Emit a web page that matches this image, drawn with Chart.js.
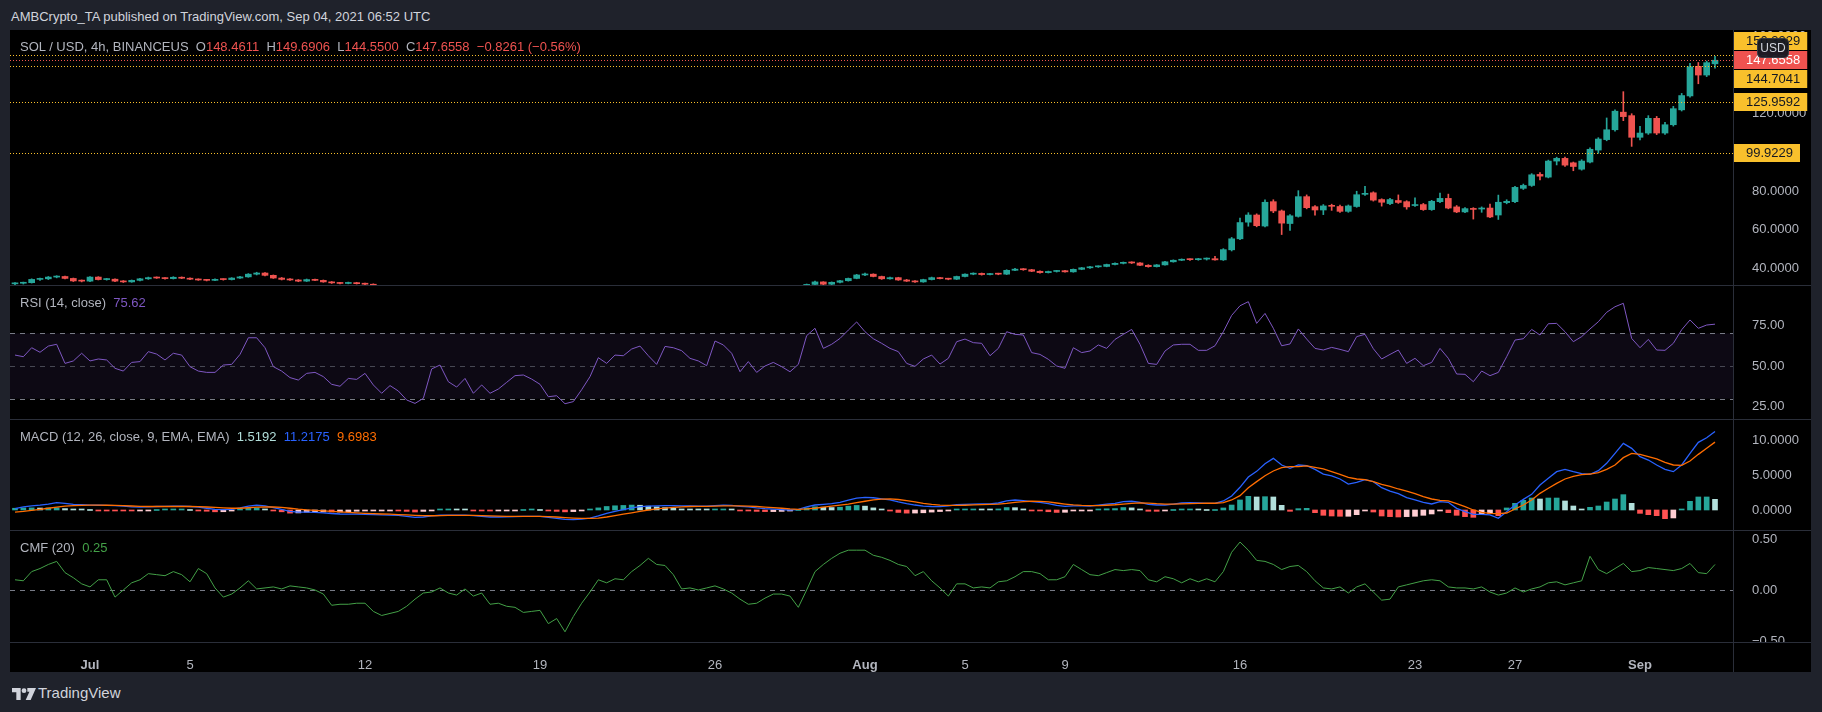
<!DOCTYPE html>
<html>
<head>
<meta charset="utf-8">
<script src="https://cdn.jsdelivr.net/npm/chart.js@4.4.1/dist/chart.umd.min.js"></script>
<style>
html, body { margin: 0; padding: 0; background: #1f222b; width: 1822px; height: 712px; overflow: hidden; font-family: 'Liberation Sans', Arial, sans-serif; }
#frame { position: absolute; left: 10px; top: 30px; width: 1801px; height: 642px; background: #000; }
canvas { position: absolute; left: 10px; }
.sep { position: absolute; background: #2a2e39; }
.txt { position: absolute; font-size: 13px; line-height: 16px; white-space: pre; color: #b2b5be; }
.red { color: #ef5350; }
</style>
</head>
<body>
<div id="frame"></div>
<canvas id="price" width="1801" height="255" style="top:30px"></canvas>
<canvas id="rsi" width="1801" height="133" style="top:286px"></canvas>
<canvas id="macd" width="1801" height="110" style="top:420px"></canvas>
<canvas id="cmf" width="1801" height="141" style="top:531px"></canvas>

<div class="sep" style="left:10px;top:285px;width:1801px;height:1px"></div>
<div class="sep" style="left:10px;top:419px;width:1801px;height:1px"></div>
<div class="sep" style="left:10px;top:530px;width:1801px;height:1px"></div>
<div class="sep" style="left:10px;top:642px;width:1801px;height:1px"></div>
<div class="sep" style="left:1733px;top:30px;width:1px;height:642px"></div>

<div class="txt" style="left:11px;top:9px;color:#d1d4dc">AMBCrypto_TA published on TradingView.com, Sep 04, 2021 06:52 UTC</div>
<div class="txt" style="left:20px;top:39px">SOL / USD, 4h, BINANCEUS  O<span class="red">148.4611</span>  H<span class="red">149.6906</span>  L<span class="red">144.5500</span>  C<span class="red">147.6558</span>  <span class="red">−0.8261 (−0.56%)</span></div>
<div class="txt" style="left:20px;top:295px">RSI (14, close)  <span style="color:#7e57c2">75.62</span></div>
<div class="txt" style="left:20px;top:429px">MACD (12, 26, close, 9, EMA, EMA)  <span style="color:#b2dfdb">1.5192</span>  <span style="color:#2962ff">11.2175</span>  <span style="color:#ff6d00">9.6983</span></div>
<div class="txt" style="left:20px;top:540px">CMF (20)  <span style="color:#43a047">0.25</span></div>

<svg style="position:absolute;left:12px;top:688px" width="24" height="12" viewBox="0 0 36 18">
  <path d="M0 0h13v18H6.5V6.5H0z" fill="#d1d4dc"/>
  <circle cx="18" cy="4" r="3.6" fill="#d1d4dc"/>
  <path d="M23 0h13l-8 18h-7.5l5.6-12.5H23z" fill="#d1d4dc"/>
</svg>
<div class="txt" style="left:38px;top:684px;font-size:15px;line-height:18px;color:#d1d4dc">TradingView</div>

<script>
// 8h bars, t = bar number counted from Jul 1 00:00 (3 bars per day)
const START_T = -9;
const X_MIN = -9.6;
const X_MAX = 197.16;

// x axis ticks (bar numbers) and their labels
const xTickValues = [0, 12, 33, 54, 75, 93, 105, 117, 138, 159, 171, 186];
const xTickLabels = ['Jul', '5', '12', '19', '26', 'Aug', '5', '9', '16', '23', '27', 'Sep'];
const xTickBold   = [true, false, false, false, false, true, false, false, false, false, false, true];

// price candles (null = below the visible price range)
const opens = [
  32.0,32.3,32.6,34.3,34.6,35.5,35.8,34.8,33.5,33.4,
  35.5,34.2,34.4,33.4,33.0,33.8,34.6,35.2,35.0,34.7,
  35.4,34.9,34.4,34.0,33.8,34.3,34.2,35.0,35.6,37.0,
  37.6,36.4,35.0,34.3,34.0,33.4,34.2,33.8,33.0,32.5,
  32.2,32.6,32.1,31.8,
  null,null,null,null,null,null,null,null,null,null,null,null,null,null,null,null,null,
  null,null,null,null,null,null,null,null,null,null,null,null,null,null,null,null,null,
  null,null,null,null,null,null,null,null,null,null,null,null,null,null,null,null,null,
  31.0,31.7,33.0,31.8,32.8,33.6,34.8,36.6,37.0,35.8,
  34.6,35.2,34.0,33.4,33.0,34.2,35.2,34.7,34.4,35.8,
  37.0,37.4,36.8,37.2,37.0,39.0,39.6,39.3,38.5,37.8,
  38.4,38.8,38.2,39.5,40.3,40.8,41.0,42.0,42.6,43.0,
  42.8,41.6,40.9,41.8,43.4,44.2,44.6,44.5,44.8,45.0,
  44.4,49.6,55.3,63.9,67.6,61.9,74.5,69.7,63.2,66.9,
  77.1,71.9,70.2,72.3,72.0,69.5,72.0,78.3,79.1,75.6,
  73.5,75.1,74.5,72.5,73.0,70.4,74.5,76.2,71.8,69.2,
  70.7,70.7,71.2,67.6,74.0,74.5,81.4,82.9,88.6,87.2,
  95.5,96.9,94.6,91.3,95.0,101.2,106.6,111.7,120.8,119.0,
  107.8,110.0,117.6,110.0,114.3,122.0,129.2,144.5,140.0,145.8
];
const highs = [
  32.6,32.9,34.6,35.0,35.8,36.2,36.0,35.0,34.0,35.8,
  35.7,34.8,34.6,33.7,34.0,34.8,35.5,35.6,35.3,35.7,
  35.6,35.1,34.6,34.3,34.6,34.6,35.2,35.9,37.3,38.0,
  37.8,36.6,35.3,34.7,34.2,34.5,34.4,34.0,33.2,32.8,
  32.9,32.8,32.4,32.0,
  null,null,null,null,null,null,null,null,null,null,null,null,null,null,null,null,null,
  null,null,null,null,null,null,null,null,null,null,null,null,null,null,null,null,null,
  null,null,null,null,null,null,null,null,null,null,null,null,null,null,null,null,null,
  31.9,33.4,33.1,33.0,33.8,35.0,36.9,37.6,37.2,36.0,
  35.5,35.4,34.3,33.7,34.4,35.5,35.4,34.9,36.0,37.2,
  37.7,37.6,37.5,37.5,39.3,40.0,39.9,39.5,38.7,38.6,
  39.0,39.0,39.7,40.5,41.0,41.3,42.2,42.9,43.3,43.4,
  43.0,41.9,42.0,43.6,44.4,44.9,44.9,45.2,45.4,46.2,
  50.2,56.0,66.0,68.8,68.2,75.4,75.5,70.2,67.8,80.2,
  78.0,72.5,73.0,73.2,72.8,72.8,79.9,82.4,79.6,76.0,
  76.2,78.0,75.0,76.5,73.6,75.2,79.0,78.4,72.5,71.5,
  71.4,71.8,73.2,77.9,75.5,82.5,83.6,89.0,89.6,96.0,
  97.5,97.6,95.0,96.2,102.4,107.6,117.8,122.0,131.4,120.0,
  113.5,119.0,118.6,115.5,123.8,130.5,146.0,146.5,147.2,149.7
];
const lows = [
  31.6,31.9,32.4,33.8,34.2,35.1,34.6,33.2,33.0,33.1,
  34.0,33.9,33.1,32.7,32.8,33.5,34.3,34.8,34.4,34.5,
  34.7,34.1,33.8,33.5,33.6,33.9,34.0,34.8,35.4,36.6,
  36.1,34.8,34.0,33.8,33.1,33.2,33.6,32.8,32.2,32.0,
  32.0,31.9,31.6,31.0,
  null,null,null,null,null,null,null,null,null,null,null,null,null,null,null,null,null,
  null,null,null,null,null,null,null,null,null,null,null,null,null,null,null,null,null,
  null,null,null,null,null,null,null,null,null,null,null,null,null,null,null,null,null,
  30.8,31.5,31.5,31.6,32.5,33.4,34.6,36.2,35.6,34.3,
  34.4,33.8,33.2,32.7,32.8,34.0,34.5,34.1,34.2,35.6,
  36.7,36.5,36.6,36.7,36.8,38.8,39.0,38.3,37.5,37.6,
  38.1,38.0,38.0,39.3,40.0,40.5,40.8,41.8,42.3,42.5,
  41.4,40.6,40.7,41.6,43.2,44.0,44.1,44.2,44.3,44.2,
  44.1,49.0,54.8,61.8,61.5,61.5,68.8,57.5,59.6,66.5,
  70.8,67.5,67.8,70.0,69.0,69.0,71.6,77.8,74.8,72.2,
  73.0,73.6,70.6,72.0,70.0,70.0,74.0,70.8,68.8,68.8,
  65.5,69.0,66.2,65.3,73.4,74.0,80.8,82.4,85.8,86.8,
  93.5,92.8,90.5,90.8,94.6,99.5,106.0,111.0,116.4,103.1,
  106.5,109.3,109.2,109.3,113.6,121.4,128.5,135.5,139.2,143.6
];
const closes = [
  32.3,32.6,34.3,34.6,35.5,35.8,34.8,33.5,33.4,35.5,
  34.2,34.4,33.4,33.0,33.8,34.6,35.2,35.0,34.7,35.4,
  34.9,34.4,34.0,33.8,34.3,34.2,35.0,35.6,37.0,37.6,
  36.4,35.0,34.3,34.0,33.4,34.2,33.8,33.0,32.5,32.2,
  32.6,32.1,31.8,31.2,
  null,null,null,null,null,null,null,null,null,null,null,null,null,null,null,null,null,
  null,null,null,null,null,null,null,null,null,null,null,null,null,null,null,null,null,
  null,null,null,null,null,null,null,null,null,null,null,null,null,null,null,null,null,
  31.7,33.0,31.8,32.8,33.6,34.8,36.6,37.0,35.8,34.6,
  35.2,34.0,33.4,33.0,34.2,35.2,34.7,34.4,35.8,37.0,
  37.4,36.8,37.2,37.0,39.0,39.6,39.3,38.5,37.8,38.4,
  38.8,38.2,39.5,40.3,40.8,41.0,42.0,42.6,43.0,42.8,
  41.6,40.9,41.8,43.4,44.2,44.6,44.5,44.8,45.0,44.4,
  49.7,55.3,63.7,67.6,62.1,74.2,69.7,63.4,67.2,77.1,
  71.4,70.2,72.3,72.1,69.5,72.3,78.1,78.6,75.3,74.2,
  75.6,74.1,71.8,73.0,70.4,74.7,76.2,71.2,69.2,70.9,
  70.5,71.2,66.6,74.2,74.7,81.9,82.9,88.4,87.7,95.5,
  96.9,93.4,92.7,95.5,101.6,106.9,111.7,121.3,118.5,107.8,
  110.0,117.6,110.0,114.3,122.6,129.4,144.3,140.0,146.4,147.66
];

// price lines and axis
const levelValues = [150.3329, 144.7041, 125.9592, 99.9229];
const lastPrice = 147.6558;
const priceTicks = [40, 60, 80, 100, 120, 140, 160];

// RSI (14)
const rsiValues = [
  56.7,55.7,61.2,58.4,62.2,63.3,51.6,53.1,57.8,53.1,
  54.3,53.7,48.6,46.9,52.2,52.7,58.8,57.3,53.7,57.8,
  56.7,49.6,46.9,46.1,46.1,50.6,51.0,57.1,67.3,67.3,
  61.2,49.6,46.9,42.9,41.4,45.5,46.1,43.5,38.8,37.6,
  42.4,41.8,45.5,38.4,33.3,38.0,34.7,29.2,27.1,30.2,
  48.2,50.6,40.4,37.1,42.4,33.3,38.4,33.3,35.9,40.0,
  44.1,44.5,42.0,38.8,31.2,31.8,26.9,28.2,35.5,43.5,
  55.1,51.6,56.7,56.3,60.4,62.2,56.3,51.0,62.0,61.2,
  59.4,54.7,53.1,50.2,65.3,62.9,57.8,46.5,52.7,46.1,
  50.0,52.2,49.6,46.5,51.0,68.6,73.1,60.8,63.3,66.9,
  72.0,77.0,71.0,66.7,63.9,60.8,58.8,51.6,49.8,54.3,
  56.7,51.2,54.7,64.9,66.5,64.3,63.9,56.3,60.8,71.0,
  69.4,69.0,58.2,57.1,54.1,50.0,48.6,61.2,58.2,59.2,
  62.9,60.8,66.3,69.4,72.4,63.3,51.6,51.0,59.2,62.9,
  63.3,63.3,59.6,59.6,62.4,71.0,81.0,86.9,89.4,76.1,
  82.2,73.1,62.4,63.5,72.7,66.5,60.8,59.8,61.4,60.2,
  58.8,68.0,69.4,60.6,54.3,57.1,59.8,51.6,54.7,50.2,
  52.2,60.8,54.7,45.1,44.9,40.4,46.9,44.1,46.1,55.7,
  65.9,66.7,72.4,69.0,75.9,76.1,71.0,64.9,68.0,72.7,
  77.1,82.9,86.3,88.4,66.9,61.2,66.3,59.8,59.6,63.9,
  72.2,78.2,73.1,75.1,75.62
];
const rsiBands = [70, 50, 30];
const rsiTicks = [25, 50, 75];

// MACD (12, 26, 9)
const macdLine = [
  0.2,0.45,0.6,0.7,0.85,1.05,0.95,0.8,0.75,0.7,
  0.68,0.65,0.62,0.55,0.45,0.4,0.45,0.5,0.52,0.55,
  0.55,0.5,0.4,0.25,0.1,0.05,0.1,0.3,0.55,0.7,
  0.6,0.35,0.1,-0.2,-0.3,-0.3,-0.33,-0.4,-0.5,-0.57,
  -0.6,-0.6,-0.62,-0.65,-0.7,-0.72,-0.78,-0.9,-1.05,-1.0,
  -0.85,-0.75,-0.72,-0.72,-0.72,-0.8,-0.9,-1.0,-1.0,-0.97,
  -0.95,-0.92,-0.9,-0.92,-1.05,-1.2,-1.35,-1.38,-1.3,-1.15,
  -0.85,-0.5,-0.2,0.05,0.3,0.48,0.55,0.6,0.62,0.62,
  0.6,0.57,0.55,0.55,0.62,0.7,0.65,0.52,0.45,0.3,
  0.19,0.12,0.05,0.0,0.1,0.45,0.71,0.8,0.9,1.1,
  1.4,1.7,1.8,1.75,1.6,1.43,1.15,0.9,0.71,0.55,
  0.5,0.48,0.6,0.75,0.81,0.85,0.86,0.86,1.0,1.3,
  1.43,1.35,1.2,1.1,0.9,0.65,0.52,0.6,0.58,0.57,
  0.7,0.85,0.95,1.2,1.25,1.1,0.8,0.71,0.71,0.85,
  1.0,1.05,1.0,0.95,0.95,1.29,2.0,3.24,4.71,5.52,
  6.62,7.38,6.43,5.95,6.43,6.33,5.81,5.14,4.86,4.43,
  3.71,3.95,4.33,4.05,3.19,2.71,2.33,1.76,1.43,1.1,
  0.86,1.19,1.1,0.24,-0.24,-0.62,-0.62,-0.71,-1.19,-0.24,
  0.71,1.52,2.24,3.57,4.52,5.48,5.81,5.48,5.19,5.1,
  5.62,6.67,8.1,9.52,8.81,7.62,7.14,6.43,5.81,5.48,
  6.43,8.1,9.67,10.33,11.2175
];
const signalLine = [
  -0.3,-0.2,-0.05,0.1,0.25,0.4,0.55,0.62,0.66,0.7,
  0.7,0.68,0.66,0.62,0.57,0.52,0.5,0.5,0.5,0.5,
  0.5,0.5,0.47,0.43,0.36,0.3,0.25,0.25,0.32,0.4,
  0.45,0.43,0.36,0.25,0.12,0.02,-0.05,-0.12,-0.2,-0.28,
  -0.35,-0.42,-0.47,-0.52,-0.57,-0.6,-0.65,-0.7,-0.76,-0.8,
  -0.82,-0.8,-0.78,-0.77,-0.76,-0.77,-0.8,-0.85,-0.88,-0.9,
  -0.92,-0.92,-0.92,-0.92,-0.95,-1.0,-1.08,-1.15,-1.2,-1.2,
  -1.15,-1.0,-0.8,-0.6,-0.4,-0.2,0.0,0.15,0.28,0.38,
  0.45,0.5,0.52,0.53,0.55,0.58,0.6,0.58,0.55,0.5,
  0.42,0.35,0.25,0.15,0.1,0.15,0.25,0.4,0.55,0.7,
  0.85,1.05,1.25,1.45,1.55,1.58,1.5,1.35,1.15,0.95,
  0.8,0.7,0.65,0.65,0.68,0.72,0.76,0.8,0.85,0.95,
  1.1,1.2,1.25,1.22,1.15,1.0,0.85,0.72,0.65,0.62,
  0.63,0.68,0.75,0.85,0.95,1.02,0.98,0.9,0.85,0.85,
  0.88,0.92,0.95,0.96,0.96,1.05,1.43,2.05,3.19,4.05,
  4.9,5.57,6.05,6.19,6.19,6.29,6.1,5.86,5.48,5.1,
  4.67,4.43,4.33,4.05,3.67,3.38,3.0,2.71,2.33,1.9,
  1.57,1.38,1.29,0.9,0.48,0.0,-0.33,-0.48,-0.52,-0.43,
  0.14,0.71,1.43,2.38,3.1,3.81,4.43,4.81,5.05,5.14,
  5.33,5.81,6.43,7.48,8.1,7.95,7.62,7.29,6.81,6.43,
  6.38,7.0,7.95,8.81,9.6983
];
const macdHist = [
  0.25,0.3,0.3,0.28,0.3,0.32,0.2,0.12,0.05,0.0,
  -0.03,-0.04,-0.05,-0.08,-0.12,-0.12,-0.05,0.0,0.02,0.05,
  0.05,0.0,-0.07,-0.18,-0.26,-0.25,-0.15,0.05,0.23,0.3,
  0.15,-0.08,-0.26,-0.45,-0.42,-0.32,-0.28,-0.28,-0.3,-0.29,
  -0.25,-0.18,-0.15,-0.13,-0.13,-0.12,-0.13,-0.2,-0.29,-0.2,
  -0.03,0.05,0.06,0.05,0.04,-0.03,-0.1,-0.15,-0.12,-0.07,
  -0.03,0.0,0.02,0.0,-0.1,-0.2,-0.27,-0.23,-0.1,0.05,
  0.3,0.5,0.6,0.65,0.7,0.68,0.55,0.45,0.34,0.24,
  0.15,0.07,0.03,0.02,0.07,0.12,0.05,-0.06,-0.1,-0.2,
  -0.23,-0.23,-0.2,-0.15,0.0,0.3,0.46,0.4,0.35,0.4,
  0.55,0.65,0.55,0.3,0.05,-0.15,-0.35,-0.45,-0.44,-0.4,
  -0.3,-0.22,-0.05,0.1,0.13,0.13,0.1,0.06,0.15,0.35,
  0.33,0.15,-0.05,-0.12,-0.25,-0.35,-0.33,-0.12,-0.07,-0.05,
  0.07,0.17,0.2,0.35,0.3,0.08,-0.18,-0.19,-0.14,0.0,
  0.12,0.13,0.05,0.0,0.0,0.29,0.71,1.43,1.95,1.86,
  1.9,1.86,0.67,-0.19,0.19,0.24,-0.38,-0.76,-0.86,-0.9,
  -0.9,-0.67,-0.1,-0.29,-0.86,-0.95,-1.0,-0.95,-0.9,-0.76,
  -0.57,-0.1,-0.38,-0.76,-0.95,-1.05,-0.67,-0.48,-0.81,0.29,
  0.95,1.38,1.71,1.57,1.71,1.71,1.29,0.57,0.05,0.38,
  0.57,1.14,1.57,2.19,0.95,-0.48,-0.67,-0.81,-1.24,-1.14,
  0.1,1.24,1.86,1.86,1.5192
];
const macdTicks = [0, 5, 10];

// CMF (20)
const cmfValues = [
  0.10,0.09,0.18,0.21,0.25,0.28,0.17,0.12,0.06,0.03,
  0.10,0.10,-0.07,0.0,0.07,0.10,0.16,0.15,0.14,0.18,
  0.15,0.08,0.21,0.16,0.02,-0.07,-0.04,0.02,0.09,0.01,
  0.02,0.03,0.01,0.04,0.03,0.02,0.0,-0.04,-0.15,-0.14,
  -0.14,-0.13,-0.13,-0.21,-0.25,-0.23,-0.21,-0.16,-0.09,-0.03,
  -0.02,0.02,-0.03,-0.05,0.01,-0.06,-0.03,-0.14,-0.13,-0.16,
  -0.17,-0.22,-0.21,-0.20,-0.33,-0.28,-0.41,-0.26,-0.13,-0.02,
  0.10,0.07,0.11,0.10,0.18,0.24,0.31,0.25,0.24,0.15,
  0.01,0.02,0.0,0.02,0.04,0.01,-0.03,-0.09,-0.14,-0.13,
  -0.08,-0.04,-0.04,-0.06,-0.17,0.0,0.18,0.25,0.31,0.36,
  0.39,0.39,0.39,0.34,0.32,0.29,0.25,0.23,0.14,0.18,
  0.09,0.02,-0.06,0.06,0.06,0.02,0.03,0.02,0.08,0.09,
  0.13,0.18,0.18,0.16,0.10,0.10,0.13,0.25,0.20,0.15,
  0.14,0.17,0.20,0.19,0.20,0.19,0.10,0.08,0.13,0.11,
  0.07,0.11,0.08,0.11,0.08,0.18,0.37,0.47,0.39,0.29,
  0.28,0.25,0.20,0.23,0.24,0.18,0.09,0.02,0.01,0.03,
  -0.03,0.03,0.06,-0.02,-0.10,-0.09,0.03,0.05,0.07,0.09,
  0.10,0.09,0.03,0.02,0.02,0.01,0.03,-0.02,-0.05,-0.03,
  0.02,-0.02,0.01,0.03,0.07,0.08,0.05,0.07,0.09,0.33,
  0.20,0.16,0.21,0.26,0.18,0.19,0.22,0.21,0.20,0.19,
  0.21,0.26,0.17,0.16,0.25
];
const cmfTicks = [-0.5, 0, 0.5];

// Styles
const teal = '#26a69a';
const red = '#ef5350';
const yellow = '#f9c02c';
const axisText = '#b2b5be';
const fontFamily = "'Liberation Sans', Arial, sans-serif";
const dashGray = '#787b86';

const barTimes = rsiValues.map((v, i) => START_T + i);

// no extra padding round the plot: panes must fill their canvas
const noPadding = function (s) {
    s.paddingTop = 0;
    s.paddingBottom = 0;
    s.paddingLeft = 0;
    s.paddingRight = 0;
};

//Helper: one y axis on the right with fixed ticks
const rightAxis = function (min, max, ticks, digits) {
    return {
        position: 'right',
        min: min,
        max: max,
        grid: {display: false},
        border: {display: false},
        ticks: {
            color: axisText,
            font: {family: fontFamily, size: 13},
            padding: 11,
            callback: (v) => v < 0 ? '−' + Math.abs(v).toFixed(digits) : v.toFixed(digits),
        },
        afterBuildTicks: (s) => { s.ticks = ticks.map(v => ({value: v})); },
        afterFit: (s) => { s.width = 78; noPadding(s); },
    };
};
const hiddenX = {type: 'linear', display: false, offset: false, min: X_MIN, max: X_MAX};
const common = {
    responsive: false,
    animation: false,
    events: [],
    layout: {padding: 0},
    plugins: {legend: {display: false}, tooltip: {enabled: false}},
};

// ---------- price chart ----------
const candleIdx = opens.map((v, i) => i).filter(i => opens[i] !== null);
const candleColors = candleIdx.map(i => closes[i] >= opens[i] ? teal : red);

const priceLevels = {
    id: 'priceLevels',
    afterDatasetsDraw(chart) {
        const {ctx, chartArea: a, scales: {y}} = chart;
        ctx.save();
        ctx.lineWidth = 1;
        ctx.setLineDash([1, 2]);
        const line = (v, c) => {
            const py = Math.round(y.getPixelForValue(v)) + 0.5;
            ctx.strokeStyle = c;
            ctx.beginPath();
            ctx.moveTo(a.left, py);
            ctx.lineTo(a.right, py);
            ctx.stroke();
        };
        levelValues.forEach(v => line(v, yellow));
        line(lastPrice, red);
        ctx.restore();
    },
    afterDraw(chart) {
        const {ctx, chartArea: a, scales: {y}} = chart;
        const H = 19;
        const boxes = levelValues.map(v => ({v: v, bg: yellow, fg: '#131722'}));
        boxes.push({v: lastPrice, bg: red, fg: '#ffffff', anchor: true});
        boxes.forEach(b => { b.py = y.getPixelForValue(b.v); });
        boxes.sort((p, q) => p.py - q.py);
        const k = boxes.findIndex(b => b.anchor);
        for (let i = k - 1; i >= 0; i--) boxes[i].py = Math.min(boxes[i].py, boxes[i + 1].py - H);
        for (let i = k + 1; i < boxes.length; i++) boxes[i].py = Math.max(boxes[i].py, boxes[i - 1].py + H);
        ctx.save();
        ctx.font = '13px ' + fontFamily;
        ctx.textBaseline = 'middle';
        // the axis labels behind a box are hidden
        ctx.fillStyle = '#000';
        boxes.forEach(b => ctx.fillRect(a.right + 1, Math.round(b.py - 9), chart.width - a.right, 18));
        boxes.forEach(b => {
            const txt = b.v.toFixed(4);
            const w = ctx.measureText(txt).width + 19;
            ctx.fillStyle = b.bg;
            ctx.fillRect(a.right + 1, Math.round(b.py - 9), w, 18);
            ctx.fillStyle = b.fg;
            ctx.fillText(txt, a.right + 13, b.py + 0.5);
        });
        // currency badge
        ctx.fillStyle = 'rgba(19,23,34,0.95)';
        ctx.strokeStyle = '#363a45';
        ctx.beginPath();
        ctx.roundRect(a.right + 24.5, 8.5, 31, 19, 4);
        ctx.fill();
        ctx.stroke();
        ctx.fillStyle = '#d1d4dc';
        ctx.font = '12px ' + fontFamily;
        ctx.textAlign = 'center';
        ctx.fillText('USD', a.right + 40, 18.5);
        ctx.restore();
    }
};

new Chart(document.getElementById('price'), {
    type: 'bar',
    data: {
        datasets: [
            {
                data: candleIdx.map(i => ({x: barTimes[i], y: [lows[i], highs[i]]})),
                backgroundColor: candleColors,
                barThickness: 1,
                grouped: false,
                order: 2,
            },
            {
                data: candleIdx.map(i => ({x: barTimes[i], y: [opens[i], closes[i]]})),
                backgroundColor: candleColors,
                barThickness: 6,
                minBarLength: 1,
                grouped: false,
                order: 1,
            },
        ],
    },
    options: Object.assign({}, common, {
        scales: {x: hiddenX, y: rightAxis(31.4, 163.3, priceTicks, 4)},
    }),
    plugins: [priceLevels],
});

// ---------- RSI ----------
const rsiBackground = {
    id: 'rsiBackground',
    beforeDatasetsDraw(chart) {
        const {ctx, chartArea: a, scales: {y}} = chart;
        const top = y.getPixelForValue(rsiBands[0]);
        const bottom = y.getPixelForValue(rsiBands[2]);
        ctx.save();
        ctx.fillStyle = 'rgba(126,87,194,0.1)';
        ctx.fillRect(a.left, top, a.right - a.left, bottom - top);
        ctx.lineWidth = 1;
        ctx.setLineDash([5, 5]);
        rsiBands.forEach((v, i) => {
            const py = Math.round(y.getPixelForValue(v)) + 0.5;
            ctx.strokeStyle = i === 1 ? 'rgba(120,123,134,0.55)' : dashGray;
            ctx.beginPath();
            ctx.moveTo(a.left, py);
            ctx.lineTo(a.right, py);
            ctx.stroke();
        });
        ctx.restore();
    }
};

new Chart(document.getElementById('rsi'), {
    type: 'line',
    data: {
        datasets: [{
            data: rsiValues.map((v, i) => ({x: barTimes[i], y: v})),
            borderColor: '#7e57c2',
            borderWidth: 1,
            pointRadius: 0,
        }],
    },
    options: Object.assign({}, common, {
        scales: {x: hiddenX, y: rightAxis(17.55, 99.0, rsiTicks, 2)},
    }),
    plugins: [rsiBackground],
});

// ---------- MACD ----------
const histColors = macdHist.map((h, i) => {
    const prev = i > 0 ? macdHist[i - 1] : h;
    if (h >= 0) return h >= prev ? teal : '#b2dfdb';
    return h < prev ? '#ff5252' : '#ffcdd2';
});

new Chart(document.getElementById('macd'), {
    type: 'bar',
    data: {
        datasets: [
            {
                data: macdHist.map((v, i) => ({x: barTimes[i], y: v})),
                backgroundColor: histColors,
                barThickness: 5,
                minBarLength: 1,
                grouped: false,
                order: 3,
            },
            {
                type: 'line',
                data: macdLine.map((v, i) => ({x: barTimes[i], y: v})),
                borderColor: '#2962ff',
                borderWidth: 1.3,
                pointRadius: 0,
                order: 2,
            },
            {
                type: 'line',
                data: signalLine.map((v, i) => ({x: barTimes[i], y: v})),
                borderColor: '#ff6d00',
                borderWidth: 1.3,
                pointRadius: 0,
                order: 1,
            },
        ],
    },
    options: Object.assign({}, common, {
        scales: {x: hiddenX, y: rightAxis(-2.86, 12.86, macdTicks, 4)},
    }),
});

// ---------- CMF + time axis ----------
const cmfZero = {
    id: 'cmfZero',
    beforeDatasetsDraw(chart) {
        const {ctx, chartArea: a, scales: {y}} = chart;
        const py = Math.round(y.getPixelForValue(0)) + 0.5;
        ctx.save();
        ctx.strokeStyle = dashGray;
        ctx.lineWidth = 1;
        ctx.setLineDash([5, 5]);
        ctx.beginPath();
        ctx.moveTo(a.left, py);
        ctx.lineTo(a.right, py);
        ctx.stroke();
        ctx.restore();
    },
    afterDraw(chart) {
        // the lowest label is cut by the pane edge
        const {ctx, chartArea: a} = chart;
        ctx.save();
        ctx.fillStyle = '#000';
        ctx.fillRect(a.right + 1, a.bottom + 1, chart.width - a.right, chart.height - a.bottom);
        ctx.restore();
    }
};

new Chart(document.getElementById('cmf'), {
    type: 'line',
    data: {
        datasets: [{
            data: cmfValues.map((v, i) => ({x: barTimes[i], y: v})),
            borderColor: '#43a047',
            borderWidth: 1,
            pointRadius: 0,
        }],
    },
    options: Object.assign({}, common, {
        scales: {
            x: {
                type: 'linear',
                offset: false,
                min: X_MIN,
                max: X_MAX,
                grid: {display: false},
                border: {display: false},
                ticks: {
                    color: axisText,
                    padding: 8,
                    maxRotation: 0,
                    autoSkip: false,
                    font: (c) => ({family: fontFamily, size: 13, weight: xTickBold[c.index] ? 'bold' : 'normal'}),
                    callback: (v, i) => xTickLabels[i],
                },
                afterBuildTicks: (s) => { s.ticks = xTickValues.map(v => ({value: v})); },
                afterFit: (s) => { s.height = 30; noPadding(s); },
            },
            y: rightAxis(-0.51, 0.578, cmfTicks, 2),
        },
    }),
    plugins: [cmfZero],
});
</script>
</body>
</html>
